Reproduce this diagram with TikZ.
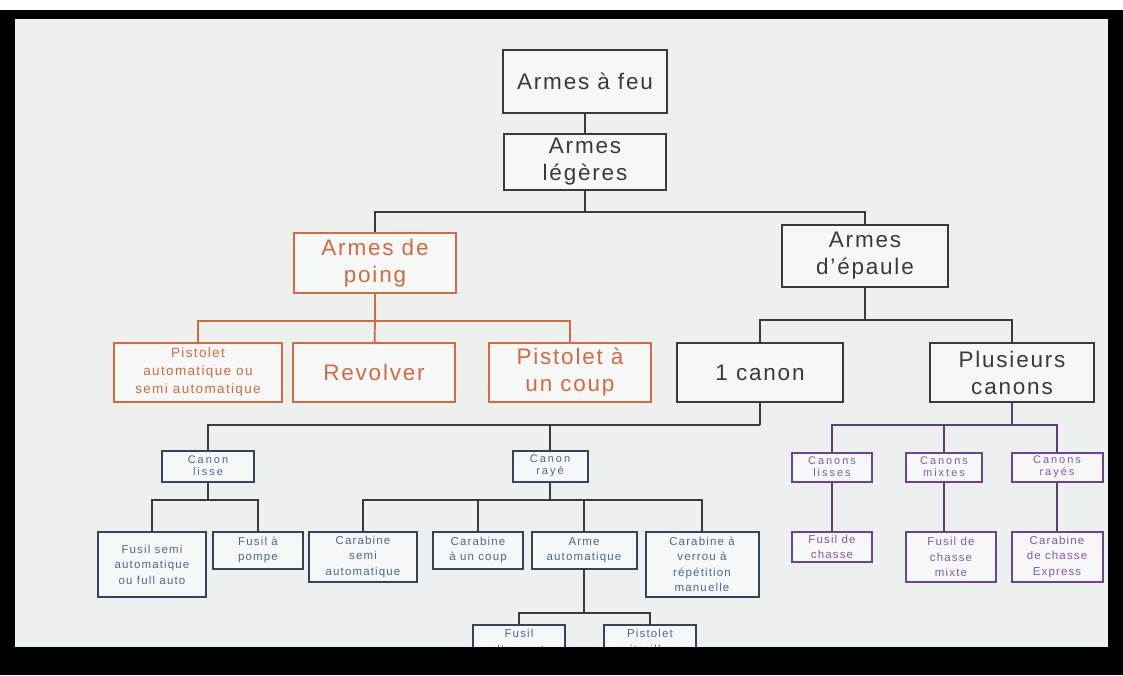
\documentclass[tikz,border=0pt]{standalone}
\usepackage{fontspec}
\setmainfont{Liberation Sans}[LetterSpace=8]
\newfontfamily\etroit{Liberation Sans}[LetterSpace=10]
\newfontfamily\espace{Liberation Sans}[LetterSpace=18]

\definecolor{fond}{HTML}{ECF0EE}
\definecolor{trait}{HTML}{3A3A3A}
\definecolor{poingcol}{HTML}{D5693F}
\definecolor{canoncol}{HTML}{34445F}
\definecolor{canontxt}{HTML}{4A6896}
\definecolor{chassecol}{HTML}{6E4292}
\definecolor{chassetxt}{HTML}{8459AE}

\tikzset{
  grand/.style={draw=trait, line width=1.7pt, fill=fond!50!white, text=trait,
    inner sep=0pt, align=center, font=\fontsize{22.5}{27}\selectfont},
  poingbox/.style={grand, draw=poingcol, text=poingcol},
  petit/.style={draw=canoncol, line width=2pt, fill=fond!50!white, text=canontxt,
    inner sep=0pt, align=center, font=\etroit\fontsize{11.5}{15.5}\selectfont},
  entete/.style={petit, font=\espace\fontsize{11}{12}\selectfont},
  chasse/.style={petit, draw=chassecol, text=chassetxt},
  lien/.style={trait, line width=1.8pt},
  lienpoing/.style={poingcol, line width=1.8pt},
  lienchasse/.style={chassecol!70!trait, line width=1.8pt},
}

\begin{document}
\begin{tikzpicture}[x=1pt,y=-1pt]
  \fill[fond] (0,0) rectangle (1123,675);
  \useasboundingbox (0,0) rectangle (1123,675);

  \node[grand, minimum width=164pt, minimum height=63pt] (feu) at (585,81.5) {Armes à feu};
  \node[grand, minimum width=162pt, minimum height=56pt] (legeres) at (585,162) {Armes\\légères};
  \node[poingbox, minimum width=162pt, minimum height=60pt] (poing) at (375,263) {Armes de\\poing};
  \node[grand, minimum width=166pt, minimum height=62pt] (epaule) at (865,256) {Armes\\d'épaule};

  \node[poingbox, minimum width=168pt, minimum height=59pt, font=\etroit\fontsize{13.5}{18}\selectfont]
    (pistauto) at (198,372.5) {Pistolet\\automatique ou\\semi automatique};
  \node[poingbox, minimum width=162pt, minimum height=59pt] (revolver) at (374,372.5) {Revolver};
  \node[poingbox, minimum width=162pt, minimum height=59pt] (uncoup) at (570,372.5) {Pistolet à\\un coup};
  \node[grand, minimum width=166pt, minimum height=59pt] (uncanon) at (760,372.5) {1 canon};
  \node[grand, minimum width=164pt, minimum height=59pt] (plusieurs) at (1012,372.5) {Plusieurs\\canons};

  \node[entete, minimum width=92pt, minimum height=31pt] (lisse) at (208,466) {Canon\\lisse};
  \node[entete, minimum width=75pt, minimum height=31pt] (raye) at (550,466) {Canon\\rayé};

  \node[petit, minimum width=108pt, minimum height=65pt] (fusilsemi) at (152,564.5) {Fusil semi\\automatique\\ou full auto};
  \node[petit, minimum width=90pt, minimum height=37pt] (pompe) at (258,550) {Fusil à\\pompe};
  \node[petit, minimum width=108pt, minimum height=50pt] (carsemi) at (363,557) {Carabine\\semi\\automatique};
  \node[petit, minimum width=90pt, minimum height=37pt] (carcoup) at (478,550) {Carabine\\à un coup};
  \node[petit, minimum width=105pt, minimum height=37pt] (armeauto) at (584,550) {Arme\\automatique};
  \node[petit, minimum width=113pt, minimum height=65pt] (verrou) at (702,564.5) {Carabine à\\verrou à\\répétition\\manuelle};
  \node[petit, minimum width=92pt, inner ysep=4pt, font=\etroit\fontsize{11.5}{16}\selectfont, anchor=north]
    (assaut) at (519,624) {Fusil\\d'assaut};
  \node[petit, minimum width=92pt, inner ysep=4pt, font=\etroit\fontsize{11.5}{16}\selectfont, anchor=north]
    (mitrail) at (650,624) {Pistolet\\mitrailleur};

  \node[chasse, entete, draw=chassecol, text=chassetxt, minimum width=80pt, minimum height=29pt]
    (clisses) at (832,467) {Canons\\lisses};
  \node[chasse, entete, draw=chassecol, text=chassetxt, minimum width=76pt, minimum height=29pt]
    (cmixtes) at (944,467) {Canons\\mixtes};
  \node[chasse, entete, draw=chassecol, text=chassetxt, minimum width=91pt, minimum height=29pt]
    (crayes) at (1057,467) {Canons\\rayés};
  \node[chasse, minimum width=80pt, minimum height=30pt] (fchasse) at (832,547) {Fusil de\\chasse};
  \node[chasse, minimum width=90pt, minimum height=50pt] (fmixte) at (951,557) {Fusil de\\chasse\\mixte};
  \node[chasse, minimum width=91pt, minimum height=50pt] (express) at (1057,557) {Carabine\\de chasse\\Express};

  \coordinate (j1) at (585,212);
  \coordinate (j2) at (375,321);
  \coordinate (j3) at (865,320);
  \coordinate (j4) at (760,425);
  \coordinate (j5) at (1012,425);
  \coordinate (j6) at (208,500);
  \coordinate (j7) at (550,500);
  \coordinate (j8) at (584,613);

  \draw[lien] (feu) -- (legeres);
  \draw[lien] (legeres) -- (j1);
  \draw[lien] (poing.north) |- (j1) -| (epaule.north);

  \draw[lienpoing] (poing) -- (j2);
  \draw[lienpoing] (pistauto.north) |- (j2) -| (uncoup.north);
  \draw[lienpoing] (j2) -- (revolver);

  \draw[lien] (epaule) -- (j3);
  \draw[lien] (uncanon.north) |- (j3) -| (plusieurs.north);

  \draw[lien] (uncanon) -- (j4);
  \draw[lien] (lisse.north) |- (j4) -| (raye.north);

  \draw[lienchasse] (plusieurs) -- (j5);
  \draw[lienchasse] (clisses.north) |- (j5) -| (crayes.north);
  \draw[lienchasse] (cmixtes.north) -- (cmixtes.north |- j5);
  \draw[lienchasse] (clisses) -- (fchasse);
  \draw[lienchasse] (cmixtes.south) -- (cmixtes.south |- fmixte.north);
  \draw[lienchasse] (crayes) -- (express);

  \draw[lien] (lisse) -- (j6);
  \draw[lien] (fusilsemi.north) |- (j6) -| (pompe.north);

  \draw[lien] (raye) -- (j7);
  \draw[lien] (carsemi.north) |- (j7) -| (verrou.north);
  \draw[lien] (carcoup.north) -- (carcoup.north |- j7);
  \draw[lien] (armeauto.north) -- (armeauto.north |- j7);

  \draw[lien] (armeauto) -- (j8);
  \draw[lien] (assaut.north) |- (j8) -| (mitrail.north);

  % cadre noir
  \fill[white] (0,0) rectangle (1123,10);
  \fill[black] (0,10) rectangle (1123,19);
  \fill[black] (0,10) rectangle (15,675);
  \fill[black] (1108,10) rectangle (1123,675);
  \fill[black] (0,647) rectangle (1123,675);
\end{tikzpicture}
\end{document}
